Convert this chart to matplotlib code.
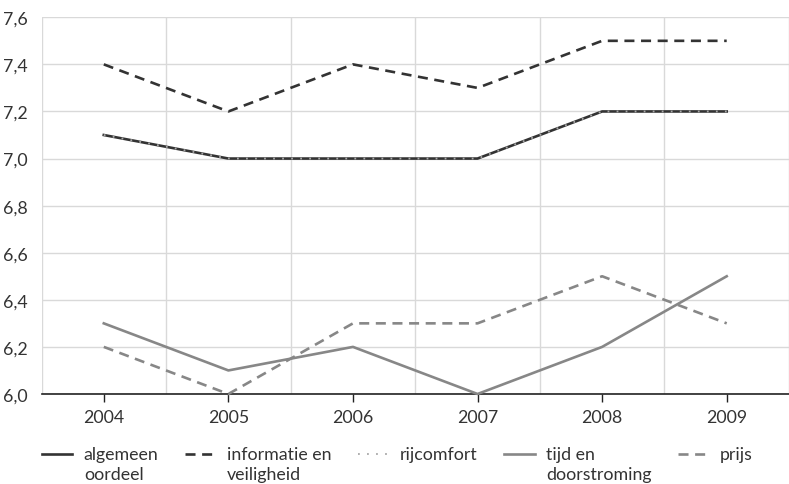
import matplotlib
matplotlib.use("Agg")
import matplotlib.pyplot as plt
import numpy as np
from matplotlib.ticker import FuncFormatter, MultipleLocator

plt.rcParams['font.family'] = ['Lato', 'DejaVu Sans']

years = [2004, 2005, 2006, 2007, 2008, 2009]
algemeen = [7.1, 7.0, 7.0, 7.0, 7.2, 7.2]
informatie = [7.4, 7.2, 7.4, 7.3, 7.5, 7.5]
rijcomfort = [7.1, 7.0, 7.0, 7.0, 7.2, 7.2]
tijd = [6.3, 6.1, 6.2, 6.0, 6.2, 6.5]
prijs = [6.2, 6.0, 6.3, 6.3, 6.5, 6.3]

labels = ['algemeen\noordeel', 'informatie en\nveiligheid', 'rijcomfort\n ',
          'tijd en\ndoorstroming', 'prijs\n ']

dark = '#333333'
grey = '#878787'
light = '#a8a8a8'
fs = 12.8

fig = plt.figure(figsize=(7.89, 4.85), dpi=100)
ax = fig.add_axes([0.0526, 0.1856, 0.9474, 0.7767])

lw = 1.9
ax.plot(years, algemeen, color=dark, lw=lw, label=labels[0], clip_on=False, zorder=3)
ax.plot(years, informatie, color=dark, lw=lw, dashes=(3.8, 2.5), label=labels[1], clip_on=False, zorder=3)
ax.plot(years, rijcomfort, color=light, lw=1.3, dashes=(1.0, 4.0), label=labels[2], clip_on=False, zorder=4)
ax.plot(years, tijd, color=grey, lw=lw, label=labels[3], clip_on=False, zorder=3)
ax.plot(years, prijs, color=grey, lw=lw, dashes=(3.8, 2.5), label=labels[4], clip_on=False, zorder=3)

ax.set_xlim(2003.5, 2003.5 + (789 - 41.5) / 126)
ax.set_ylim(6.0, 7.6)
ax.set_xticks(years)
ax.set_xticks([y + 0.5 for y in [2003] + years], minor=True)
ax.yaxis.set_major_locator(MultipleLocator(0.2))
ax.yaxis.set_major_formatter(FuncFormatter(lambda v, p: f"{v:.1f}".replace('.', ',')))

ax.grid(True, axis='y', color='#d9d9d9', lw=1)
ax.grid(True, axis='x', which='minor', color='#d9d9d9', lw=1)
ax.set_axisbelow(True)
for s in ['top', 'right', 'left']:
    ax.spines[s].set_visible(False)
ax.spines['bottom'].set_color('#222222')
ax.spines['bottom'].set_linewidth(1.2)

ax.tick_params(axis='x', which='major', length=6, width=1, color='#222222', labelsize=fs, pad=5, labelcolor='#333333')
ax.tick_params(axis='x', which='minor', length=0)
ax.tick_params(axis='y', length=0, labelsize=fs, pad=10, labelcolor='#333333')

leg = fig.legend(loc='upper left', bbox_to_anchor=(0.0533, 0.079), ncol=5, frameon=False,
                 fontsize=fs, handlelength=1.7, handletextpad=0.65, columnspacing=1.5,
                 borderaxespad=0, borderpad=0, labelcolor='#333333')
for t in leg.get_texts():
    t.set_linespacing(1.3)

# legend centres the handle on the two-line label; lift it to the first line
r = fig.canvas.get_renderer()
t0 = leg.get_texts()[0]
one = plt.Text(0, 0, 'algemeen', fontsize=fs, figure=fig).get_window_extent(r).height
two = t0.get_window_extent(r).height
shift = 0.5 * (two - one) * 72 / fig.dpi
for h in leg.legend_handles:
    h.set_ydata(np.asarray(h.get_ydata()) + shift)

fig.savefig('out.png', dpi=100)
